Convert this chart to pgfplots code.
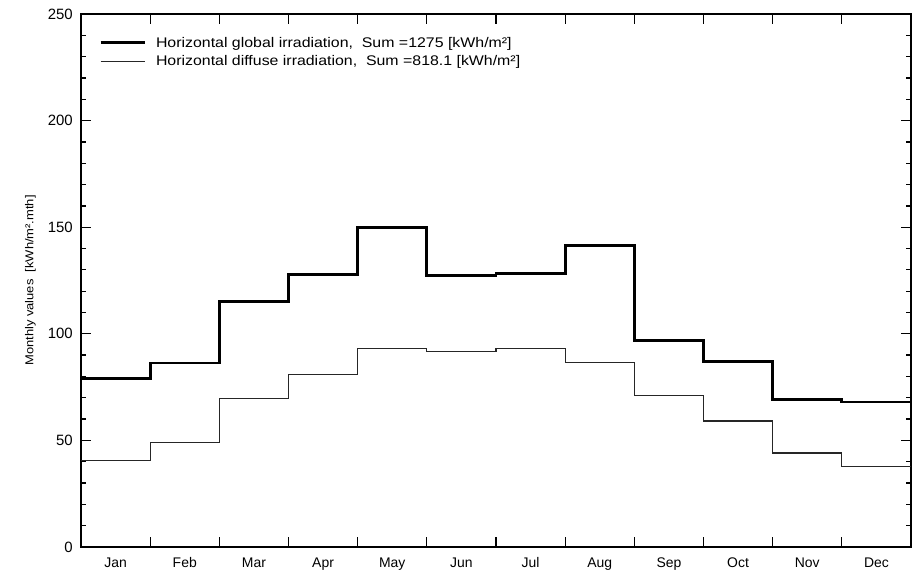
\documentclass[border=0pt]{standalone}
\usepackage{pgfplots}
\pgfplotsset{compat=1.18}
\usepackage{fontspec}
\setmainfont{Liberation Sans}
\newfontfamily\wide[FakeStretch=1.14]{Liberation Sans}
\newfontfamily\widey[FakeStretch=1.13]{Liberation Sans}
\begin{document}
\begin{tikzpicture}
\begin{axis}[
  scale only axis,
  width=830bp, height=533bp,
  xmin=0, xmax=12, ymin=0, ymax=250,
  axis line style={line width=2.6bp},
  clip=false,
  xtick={0.5,1.5,...,11.5},
  xticklabels={Jan,Feb,Mar,Apr,May,Jun,Jul,Aug,Sep,Oct,Nov,Dec},
  extra x ticks={1,2,...,11},
  extra x tick labels={},
  extra x tick style={x tick style={draw=black,line width=1.3bp}, xticklabels={}},
  ytick={0,50,...,250},
  minor ytick={10,20,...,240},
  tick align=inside,
  x tick style={draw=none},
  y tick style={line width=1.3bp,black},
  minor y tick style={line width=1.3bp,black},
  major tick length=10bp,
  minor tick length=5bp,
  xticklabel style={font=\fontsize{14}{16}\selectfont, text height=10bp, text depth=3bp, inner sep=0pt, yshift=-10.5bp},
  yticklabel style={font=\fontsize{15}{17}\selectfont, inner sep=0pt, xshift=-8bp},
  /pgf/number format/assume math mode=true,
  ylabel={\widey Monthly values\ \ [kWh/m².mth]},
  ylabel style={font=\fontsize{11.5}{13}\selectfont, at={(axis description cs:-0.0542,0.5)}, anchor=south, inner sep=0pt},
  legend style={draw=none, fill=none, at={(axis description cs:0.0205,0.963)}, anchor=north west,
    font=\wide\fontsize{14}{16}\selectfont, row sep=3bp, inner sep=1bp,
    /tikz/every odd column/.append style={column sep=8bp}},
  legend cell align=left,
  legend image code/.code={\draw[#1] (0bp,0bp) -- (44bp,0bp);},
]
\addplot[const plot, line width=2.8bp, black] coordinates {
 (0,79.2) (1,86.3) (2,115.3) (3,127.8) (4,150.0) (5,127.2)
 (6,128.2) (7,141.6) (8,96.9) (9,86.9) (10,69.2) (11,68.0) (12,68.0)};
\addlegendentry{Horizontal global irradiation,\ \ Sum =1275 [kWh/m²]}
\addplot[const plot, line width=1.2bp, black!85] coordinates {
 (0,40.6) (1,49.1) (2,69.6) (3,81.0) (4,93.0) (5,91.6)
 (6,93.0) (7,86.6) (8,71.1) (9,59.1) (10,44.1) (11,37.8) (12,37.8)};
\addlegendentry{Horizontal diffuse irradiation,\ \ Sum =818.1 [kWh/m²]}
\path ([shift={(-81bp,-26bp)}]rel axis cs:0,0) rectangle ([shift={(4bp,14bp)}]rel axis cs:1,1);
\end{axis}
\end{tikzpicture}
\end{document}
